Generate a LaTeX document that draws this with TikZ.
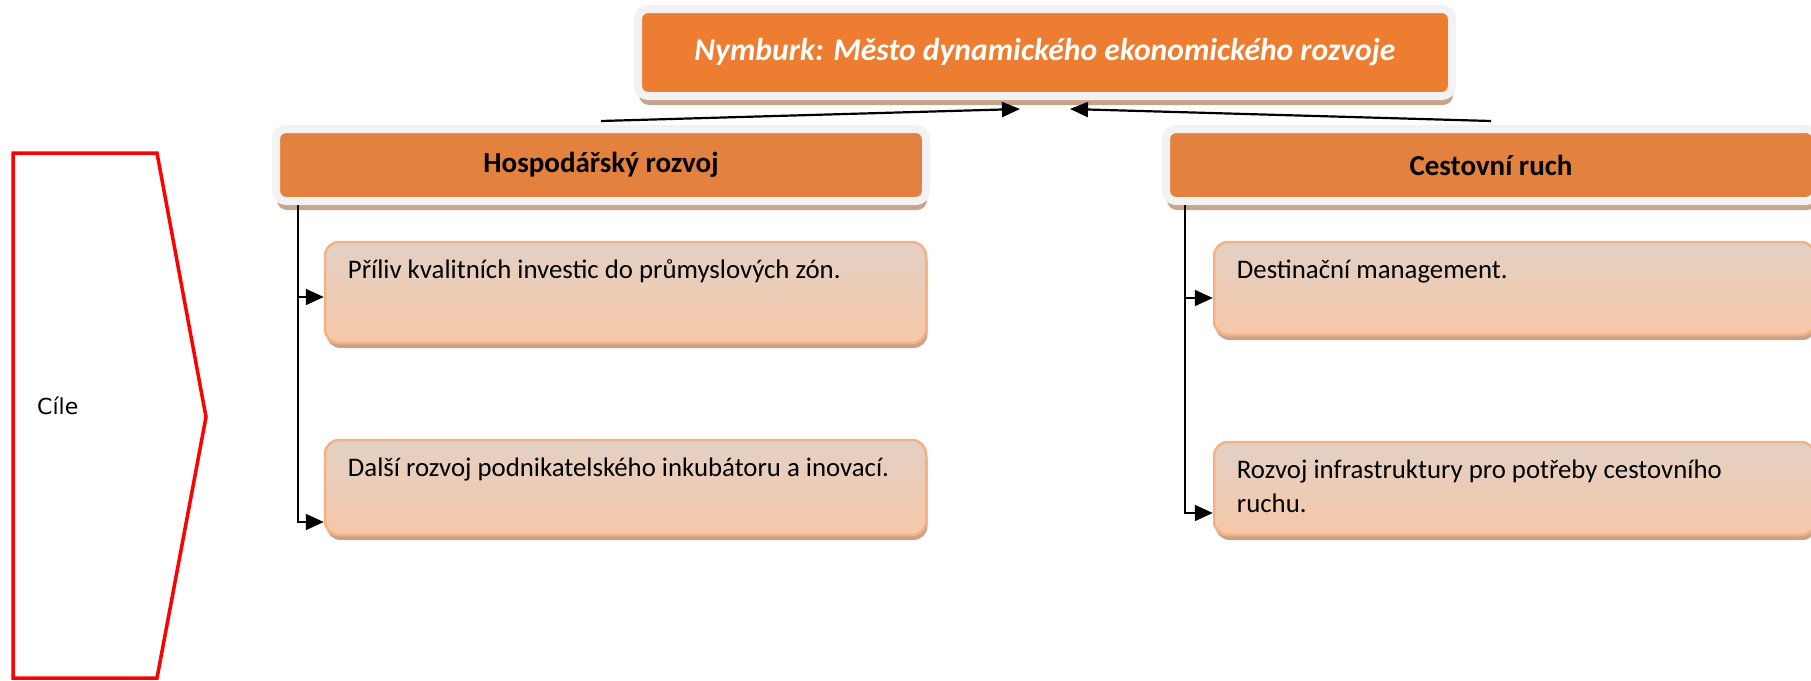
\documentclass[tikz,border=0pt]{standalone}
\usepackage{fontspec}
\setmainfont{Carlito}
\newfontfamily\cilefont{DejaVu Sans}
\usepackage{tikz}
\usetikzlibrary{arrows.meta,shadows}

\definecolor{titleorange}{HTML}{ED7D31}
\definecolor{headorange}{HTML}{E3823F}
\definecolor{rimgrey}{HTML}{F2F2F2}
\definecolor{shadowbrown}{HTML}{C6A48C}
\definecolor{subtop}{HTML}{E3D0C4}
\definecolor{subbottom}{HTML}{F6C8A8}
\definecolor{subrim}{HTML}{F4B183}

\begin{document}
\begin{tikzpicture}[x=1pt, y=-1pt,
  every node/.style={inner sep=0pt},
  titlebox/.style={draw=rimgrey, line width=8pt, fill=titleorange, rounded corners=10pt,
    minimum width=814pt, minimum height=87pt, text=white,
    font=\fontsize{31.6}{37}\selectfont\bfseries\itshape,
    drop shadow={shadow xshift=1pt, shadow yshift=-9pt, fill=shadowbrown, opacity=1}},
  headbox/.style={draw=rimgrey, line width=8pt, fill=headorange, rounded corners=10pt,
    minimum width=650pt, minimum height=72pt, text=black,
    font=\fontsize{29}{34}\selectfont\bfseries,
    drop shadow={shadow xshift=1pt, shadow yshift=-9pt, fill=shadowbrown, opacity=1}},
  subbox/.style={draw=subrim, line width=2.5pt, top color=subtop, bottom color=subbottom,
    rounded corners=14pt, minimum width=601pt,
    drop shadow={shadow xshift=1.5pt, shadow yshift=-5pt, fill=shadowbrown, opacity=1}},
  subtext/.style={anchor=north west, align=left, font=\fontsize{26.8}{34}\selectfont},
  cilelabel/.style={anchor=west, font=\cilefont\fontsize{22}{26}\selectfont},
  link/.style={line width=2.2pt, -{Triangle[length=18pt,width=15pt]}},
  branch/.style={line width=2pt, -{Triangle[length=18pt,width=16pt]}}
]
\useasboundingbox (0,0) rectangle (1811,680);

% goals marker
\draw[red, line width=3.5pt] (13,153) -- (157,153) -- (206,417) -- (157,678) -- (13,678) -- cycle;
\node[cilelabel] (cile) at (37,406) {Cíle};

% vision and the two pillars
\node[titlebox] (vision) at (1045,52.5) {Nymburk: Město dynamického ekonomického rozvoje};
\node[headbox] (econ) at (601,165) {Hospodářský rozvoj};
\node[headbox] (tour) at (1491,165) {Cestovní ruch};

% goal boxes
\node[subbox, minimum height=101pt] (invest) at (625.5,292.5) {};
\node[subbox, minimum height=95pt] (incub) at (625.5,487.5) {};
\node[subbox, minimum height=93pt] (destin) at (1514.5,288.5) {};
\node[subbox, minimum height=93pt] (infra) at (1514.5,488.5) {};

\node[subtext] (invest-t) at ([xshift=24pt,yshift=-14pt]invest.north west)
  {\strut Příliv kvalitních investic do průmyslových zón.};
\node[subtext] (incub-t) at ([xshift=24pt,yshift=-14pt]incub.north west)
  {\strut Další rozvoj podnikatelského inkubátoru a inovací.};
\node[subtext] (destin-t) at ([xshift=24pt,yshift=-14pt]destin.north west)
  {\strut Destinační management.};
\node[subtext] (infra-t) at ([xshift=24pt,yshift=-14pt]infra.north west)
  {\strut Rozvoj infrastruktury pro potřeby cestovního\\ruchu.};

% connectors
\draw[link] ([yshift=4pt]econ.north) -- ([xshift=-25pt,yshift=-9pt]vision.south);
\draw[link] ([yshift=4pt]tour.north) -- ([xshift=25pt,yshift=-9pt]vision.south);

\draw[branch] ([xshift=26pt]econ.south west) |- ([yshift=-4.5pt]invest.west);
\draw[branch] ([xshift=26pt]econ.south west) |- ([yshift=-34.5pt]incub.west);
\draw[branch] ([xshift=23pt]tour.south west) |- ([yshift=-9.5pt]destin.west);
\draw[branch] ([xshift=23pt]tour.south west) |- ([yshift=-24.5pt]infra.west);
\end{tikzpicture}
\end{document}
